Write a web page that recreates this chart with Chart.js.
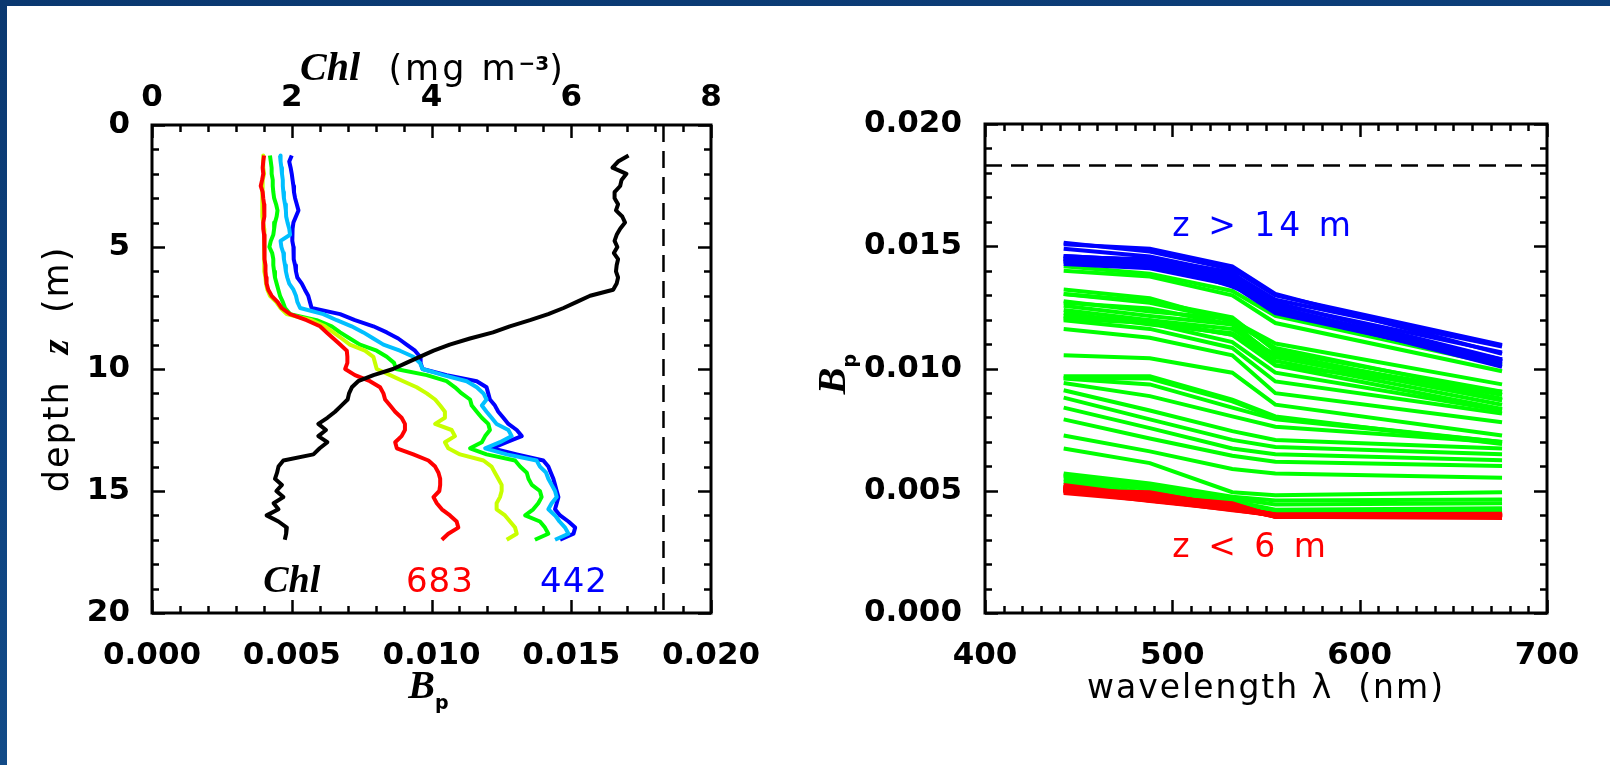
<!DOCTYPE html>
<html>
<head>
<meta charset="utf-8">
<title>Bp profiles and spectra</title>
<script src="https://cdn.jsdelivr.net/npm/chart.js@4.4.1/dist/chart.umd.min.js"></script>
<style>
  html, body { margin: 0; padding: 0; }
  body {
    width: 1610px; height: 765px; overflow: hidden; position: relative;
    background: linear-gradient(170deg, #0a3870 0%, #0e4380 45%, #16538f 100%);
  }
  #panel { position: absolute; left: 7px; top: 6px; right: 0; bottom: 0; background: #fff; }
  canvas { position: absolute; top: 0; }
  #left { left: 0; }
  #right { left: 800px; }
</style>
</head>
<body>
<div id="panel"></div>
<canvas id="left" width="800" height="765"></canvas>
<canvas id="right" width="810" height="765"></canvas>
<script>
// depth samples (m)
const depths = [1.25, 1.5, 1.75, 2, 2.25, 2.5, 2.75, 3, 3.25, 3.5,
    3.75, 4, 4.25, 4.5, 4.75, 5, 5.25, 5.5, 5.75, 6,
    6.25, 6.5, 6.75, 7, 7.25, 7.5, 7.75, 8, 8.25, 8.5,
    8.75, 9, 9.25, 9.5, 9.75, 10, 10.25, 10.5, 10.75, 11,
    11.25, 11.5, 11.75, 12, 12.25, 12.5, 12.75, 13, 13.25, 13.5,
    13.75, 14, 14.25, 14.5, 14.75, 15, 15.25, 15.5, 15.75, 16,
    16.25, 16.5, 16.75, 17];

// Bp at each depth, one array per channel
const bp442 = [0.00500, 0.00491, 0.00496, 0.00500, 0.00503, 0.00506, 0.00508, 0.00512, 0.00518, 0.00524,
    0.00515, 0.00506, 0.00503, 0.00501, 0.00503, 0.00506, 0.00506, 0.00508, 0.00512, 0.00515,
    0.00520, 0.00536, 0.00547, 0.00559, 0.00565, 0.00571, 0.00673, 0.00726, 0.00792, 0.00840,
    0.00881, 0.00911, 0.00941, 0.00959, 0.00961, 0.00968, 0.01054, 0.01162, 0.01197, 0.01203,
    0.01209, 0.01227, 0.01239, 0.01257, 0.01275, 0.01305, 0.01323, 0.01269, 0.01215, 0.01305,
    0.01400, 0.01418, 0.01427, 0.01436, 0.01442, 0.01448, 0.01454, 0.01448, 0.01442, 0.01460,
    0.01490, 0.01514, 0.01508, 0.01460];
const bp488 = [0.00458, 0.00460, 0.00463, 0.00465, 0.00468, 0.00468, 0.00470, 0.00472, 0.00476, 0.00479,
    0.00480, 0.00485, 0.00491, 0.00494, 0.00460, 0.00463, 0.00470, 0.00472, 0.00476, 0.00479,
    0.00484, 0.00491, 0.00506, 0.00515, 0.00520, 0.00530, 0.00613, 0.00661, 0.00714, 0.00756,
    0.00792, 0.00828, 0.00887, 0.00935, 0.00959, 0.00968, 0.01042, 0.01126, 0.01162, 0.01186,
    0.01197, 0.01180, 0.01197, 0.01215, 0.01233, 0.01275, 0.01287, 0.01245, 0.01192, 0.01269,
    0.01376, 0.01388, 0.01410, 0.01418, 0.01430, 0.01442, 0.01448, 0.01430, 0.01418, 0.01442,
    0.01458, 0.01478, 0.01490, 0.01442];
const bp532 = [0.00422, 0.00425, 0.00428, 0.00428, 0.00432, 0.00432, 0.00434, 0.00437, 0.00444, 0.00449,
    0.00446, 0.00440, 0.00437, 0.00434, 0.00425, 0.00420, 0.00430, 0.00434, 0.00434, 0.00437,
    0.00440, 0.00446, 0.00452, 0.00458, 0.00468, 0.00476, 0.00494, 0.00589, 0.00643, 0.00673,
    0.00708, 0.00744, 0.00804, 0.00840, 0.00866, 0.00873, 0.00983, 0.01054, 0.01084, 0.01108,
    0.01138, 0.01144, 0.01162, 0.01180, 0.01203, 0.01209, 0.01192, 0.01180, 0.01138, 0.01197,
    0.01299, 0.01317, 0.01341, 0.01347, 0.01359, 0.01388, 0.01394, 0.01382, 0.01364, 0.01335,
    0.01388, 0.01406, 0.01418, 0.01370];
const bp555 = [0.00398, 0.00398, 0.00398, 0.00401, 0.00396, 0.00394, 0.00394, 0.00396, 0.00394, 0.00394,
    0.00396, 0.00398, 0.00401, 0.00401, 0.00401, 0.00401, 0.00401, 0.00403, 0.00403, 0.00403,
    0.00406, 0.00408, 0.00413, 0.00422, 0.00444, 0.00460, 0.00482, 0.00571, 0.00619, 0.00649,
    0.00679, 0.00708, 0.00762, 0.00792, 0.00798, 0.00804, 0.00852, 0.00899, 0.00947, 0.00983,
    0.01013, 0.01031, 0.01048, 0.01048, 0.01013, 0.01072, 0.01084, 0.01048, 0.01060, 0.01102,
    0.01186, 0.01215, 0.01227, 0.01239, 0.01251, 0.01251, 0.01245, 0.01233, 0.01233, 0.01263,
    0.01281, 0.01299, 0.01305, 0.01269];
const bp683 = [0.00401, 0.00398, 0.00396, 0.00398, 0.00394, 0.00389, 0.00396, 0.00398, 0.00401, 0.00403,
    0.00401, 0.00398, 0.00398, 0.00401, 0.00403, 0.00403, 0.00401, 0.00403, 0.00406, 0.00406,
    0.00408, 0.00410, 0.00416, 0.00428, 0.00449, 0.00464, 0.00494, 0.00553, 0.00601, 0.00625,
    0.00649, 0.00673, 0.00697, 0.00699, 0.00699, 0.00691, 0.00726, 0.00780, 0.00816, 0.00828,
    0.00834, 0.00852, 0.00870, 0.00893, 0.00905, 0.00905, 0.00893, 0.00870, 0.00876, 0.00935,
    0.00989, 0.01013, 0.01025, 0.01031, 0.01031, 0.01028, 0.01007, 0.01019, 0.01037, 0.01066,
    0.01090, 0.01096, 0.01060, 0.01037];

// chlorophyll (mg m-3) at the same depths
const chl = [6.82, 6.67, 6.59, 6.79, 6.72, 6.70, 6.62, 6.62, 6.67, 6.64,
    6.73, 6.77, 6.70, 6.65, 6.62, 6.66, 6.61, 6.67, 6.65, 6.64,
    6.67, 6.65, 6.60, 6.27, 6.08, 5.89, 5.67, 5.41, 5.12, 4.88,
    4.55, 4.26, 4.03, 3.83, 3.64, 3.45, 3.17, 2.95, 2.86, 2.82,
    2.80, 2.71, 2.62, 2.51, 2.38, 2.49, 2.38, 2.51, 2.40, 2.31,
    1.88, 1.81, 1.79, 1.76, 1.86, 1.78, 1.88, 1.74, 1.81, 1.64,
    1.81, 1.93, 1.92, 1.90];

const wavelengths = [442, 488, 532, 555, 676];
const bpRef = 0.0183;

const bpTicks = [0, 0.005, 0.010, 0.015, 0.020];
const chlTicks = [0, 2, 4, 6, 8];
const depthTicks = [0, 5, 10, 15, 20];
const wlTicks = [400, 500, 600, 700];

Chart.defaults.color = '#000';
Chart.defaults.font.family = '"DejaVu Sans", sans-serif';

const TICKFONT = { family: '"DejaVu Sans"', size: 31, weight: 'bold' };
const SANS = s => s + 'px "DejaVu Sans"';
const ITAL = s => 'italic bold ' + s + 'px "Liberation Serif"';

function minorTicks(major, n) {
    let out = [];
    for (let i = 0; i < major.length - 1; i++) {
        let step = (major[i + 1] - major[i]) / n;
        for (let k = 1; k < n; k++) out.push(major[i] + k * step);
    }
    return out;
}

function setTicks(list) {
    return function(scale) { scale.ticks = list.map(v => ({ value: v })); };
}

// draws a run of text pieces with different fonts on one baseline
function drawPieces(ctx, pieces, x, y, align) {
    let w = 0;
    pieces.forEach(p => {
        ctx.font = p.font;
        ctx.letterSpacing = p.ls || '0px';
        p.w = ctx.measureText(p.t).width;
        w += p.w;
    });
    let cx = align === 'center' ? x - w / 2 : x;
    pieces.forEach(p => {
        ctx.font = p.font;
        ctx.letterSpacing = p.ls || '0px';
        ctx.fillStyle = p.color || '#000';
        ctx.fillText(p.t, cx, y + (p.dy || 0));
        cx += p.w;
    });
    ctx.letterSpacing = '0px';
}

// box round the plot with inward ticks on the chosen sides
const frameTicks = {
    id: 'frameTicks',
    afterDatasetsDraw(chart, args, opts) {
        const ctx = chart.ctx, a = chart.chartArea;
        ctx.save();
        ctx.strokeStyle = '#000';
        ctx.lineWidth = 3;
        ctx.strokeRect(a.left, a.top, a.right - a.left, a.bottom - a.top);
        ctx.lineWidth = 2.5;
        opts.axes.forEach(t => {
            const s = chart.scales[t.scale];
            [[t.major, 13], [t.minor, 7]].forEach(([vals, len]) => {
                vals.forEach(v => {
                    const p = Math.round(s.getPixelForValue(v)) + 0.5;
                    ctx.beginPath();
                    t.sides.forEach(side => {
                        if (side === 'bottom') { ctx.moveTo(p, a.bottom); ctx.lineTo(p, a.bottom - len); }
                        if (side === 'top') { ctx.moveTo(p, a.top); ctx.lineTo(p, a.top + len); }
                        if (side === 'left') { ctx.moveTo(a.left, p); ctx.lineTo(a.left + len, p); }
                        if (side === 'right') { ctx.moveTo(a.right, p); ctx.lineTo(a.right - len, p); }
                    });
                    ctx.stroke();
                });
            });
        });
        ctx.restore();
    }
};

const leftText = {
    id: 'leftText',
    afterDraw(chart) {
        const ctx = chart.ctx, a = chart.chartArea, sx = chart.scales.x, sy = chart.scales.y;
        const mid = (a.left + a.right) / 2;
        ctx.save();
        ctx.textAlign = 'left';
        ctx.textBaseline = 'alphabetic';
        drawPieces(ctx, [
            { t: 'Chl', font: ITAL(40) },
            { t: '  (mg m', font: SANS(35), ls: '3px' },
            { t: '\u22123', font: 'bold ' + SANS(20), dy: -10 },
            { t: ')', font: SANS(35) }
        ], mid, 80, 'center');
        drawPieces(ctx, [
            { t: 'B', font: ITAL(40) },
            { t: 'p', font: 'bold ' + SANS(19), dy: 11 }
        ], mid - 3, 698, 'center');
        ctx.save();
        ctx.translate(56, (a.top + a.bottom) / 2);
        ctx.rotate(-Math.PI / 2);
        drawPieces(ctx, [
            { t: 'depth  ', font: SANS(35), ls: '2px' },
            { t: 'z', font: ITAL(38) },
            { t: '  (m)', font: SANS(35), ls: '2px' }
        ], 0, 12, 'center');
        ctx.restore();
        const yLab = sy.getPixelForValue(19.15);
        drawPieces(ctx, [{ t: 'Chl', font: ITAL(38) }], sx.getPixelForValue(0.0050), yLab, 'center');
        drawPieces(ctx, [{ t: '683', font: SANS(34), color: '#ff0000', ls: '1px' }], sx.getPixelForValue(0.0103), yLab, 'center');
        drawPieces(ctx, [{ t: '442', font: SANS(34), color: '#0000ff', ls: '1px' }], sx.getPixelForValue(0.0151), yLab, 'center');
        ctx.restore();
    }
};

const rightText = {
    id: 'rightText',
    afterDraw(chart) {
        const ctx = chart.ctx, a = chart.chartArea, sx = chart.scales.x, sy = chart.scales.y;
        ctx.save();
        ctx.textAlign = 'left';
        ctx.textBaseline = 'alphabetic';
        drawPieces(ctx, [
            { t: 'wavelength \u03bb  (nm)', font: SANS(33), ls: '2px' }
        ], (a.left + a.right) / 2, 698, 'center');
        ctx.save();
        ctx.translate(37, 374);
        ctx.rotate(-Math.PI / 2);
        drawPieces(ctx, [
            { t: 'B', font: ITAL(40) },
            { t: 'p', font: 'bold ' + SANS(19), dy: 11 }
        ], 0, 8, 'center');
        ctx.restore();
        drawPieces(ctx, [{ t: 'z > 14 m', font: SANS(33), color: '#0000ff', ls: '4px' }],
            sx.getPixelForValue(500), sy.getPixelForValue(0.0154), 'left');
        drawPieces(ctx, [{ t: 'z < 6 m', font: SANS(33), color: '#ff0000', ls: '4px' }],
            sx.getPixelForValue(500), sy.getPixelForValue(0.0023), 'left');
        ctx.restore();
    }
};

function profile(values) {
    return values.map((v, i) => ({ x: v, y: depths[i] }));
}

// left panel: Bp and Chl against depth
let leftSets = [
    { data: chl.map((v, i) => ({ x: v, y: depths[i] })), xAxisID: 'x2', borderColor: '#000000' },
    { data: profile(bp683), borderColor: '#ff0000' },
    { data: profile(bp555), borderColor: '#c8ff00' },
    { data: profile(bp532), borderColor: '#00ff00' },
    { data: profile(bp488), borderColor: '#00bfff' },
    { data: profile(bp442), borderColor: '#0000ff' },
    { data: [{ x: bpRef, y: 0 }, { x: bpRef, y: 20 }], borderColor: '#000000', borderWidth: 2.5, borderDash: [17, 9] }
];

new Chart(document.getElementById('left'), {
    type: 'line',
    data: { datasets: leftSets },
    options: {
        responsive: false,
        animation: false,
        devicePixelRatio: 1,
        layout: { padding: { left: 0, right: 89, top: 0, bottom: 0 } },
        plugins: {
            legend: { display: false },
            tooltip: { enabled: false },
            frameTicks: {
                axes: [
                    { scale: 'x', major: bpTicks, minor: minorTicks(bpTicks, 5), sides: ['bottom'] },
                    { scale: 'x2', major: chlTicks, minor: minorTicks(chlTicks, 5), sides: ['top'] },
                    { scale: 'y', major: depthTicks, minor: minorTicks(depthTicks, 5), sides: ['left', 'right'] }
                ]
            }
        },
        elements: {
            point: { radius: 0 },
            line: { tension: 0, borderWidth: 4, borderJoinStyle: 'round' }
        },
        scales: {
            x: {
                type: 'linear', position: 'bottom', min: 0, max: 0.02,
                afterBuildTicks: setTicks(bpTicks),
                afterFit: s => { s.height = 152; },
                grid: { display: false }, border: { display: false },
                ticks: { font: TICKFONT, padding: 16, autoSkip: false, maxRotation: 0, callback: v => v.toFixed(3) }
            },
            x2: {
                type: 'linear', position: 'top', min: 0, max: 8,
                afterBuildTicks: setTicks(chlTicks),
                afterFit: s => { s.height = 125; },
                grid: { display: false }, border: { display: false },
                ticks: { font: TICKFONT, padding: 0, autoSkip: false, maxRotation: 0, callback: v => String(v) }
            },
            y: {
                type: 'linear', position: 'left', min: 0, max: 20, reverse: true,
                afterBuildTicks: setTicks(depthTicks),
                afterFit: s => { s.width = 152; },
                grid: { display: false }, border: { display: false },
                ticks: { font: TICKFONT, padding: 14, autoSkip: false, callback: v => String(v) }
            }
        }
    },
    plugins: [frameTicks, leftText]
});

// right panel: one spectrum per depth, coloured by depth class
// (first dataset is drawn on top: shallow red, then deep blue, then green)
const spectra = [bp442, bp488, bp532, bp555, bp683];
function spectrumAt(k, colour) {
    return { data: wavelengths.map((w, i) => ({ x: w, y: spectra[i][k] })), borderColor: colour };
}
let redSets = [], blueSets = [], greenSets = [];
depths.forEach((z, k) => {
    if (z < 6) redSets.push(spectrumAt(k, '#ff0000'));
    else if (z > 14) blueSets.push(spectrumAt(k, '#0000ff'));
    else greenSets.push(spectrumAt(k, '#00ff00'));
});
let rightSets = redSets.concat(blueSets, greenSets);
rightSets.push({
    data: [{ x: 400, y: bpRef }, { x: 700, y: bpRef }],
    borderColor: '#000000', borderWidth: 2.5, borderDash: [17, 9]
});

new Chart(document.getElementById('right'), {
    type: 'line',
    data: { datasets: rightSets },
    options: {
        responsive: false,
        animation: false,
        devicePixelRatio: 1,
        layout: { padding: { left: 0, right: 63, top: 124, bottom: 0 } },
        plugins: {
            legend: { display: false },
            tooltip: { enabled: false },
            frameTicks: {
                axes: [
                    { scale: 'x', major: wlTicks, minor: minorTicks(wlTicks, 10), sides: ['bottom', 'top'] },
                    { scale: 'y', major: bpTicks, minor: minorTicks(bpTicks, 5), sides: ['left', 'right'] }
                ]
            }
        },
        elements: {
            point: { radius: 0 },
            line: { tension: 0, borderWidth: 4, borderCapStyle: 'butt' }
        },
        scales: {
            x: {
                type: 'linear', position: 'bottom', min: 400, max: 700,
                afterBuildTicks: setTicks(wlTicks),
                afterFit: s => { s.height = 152; },
                grid: { display: false }, border: { display: false },
                ticks: { font: TICKFONT, padding: 16, autoSkip: false, maxRotation: 0, callback: v => String(v) }
            },
            y: {
                type: 'linear', position: 'left', min: 0, max: 0.02,
                afterBuildTicks: setTicks(bpTicks),
                afterFit: s => { s.width = 185; },
                grid: { display: false }, border: { display: false },
                ticks: { font: TICKFONT, padding: 15, autoSkip: false, callback: v => v.toFixed(3) }
            }
        }
    },
    plugins: [frameTicks, rightText]
});
</script>
</body>
</html>
